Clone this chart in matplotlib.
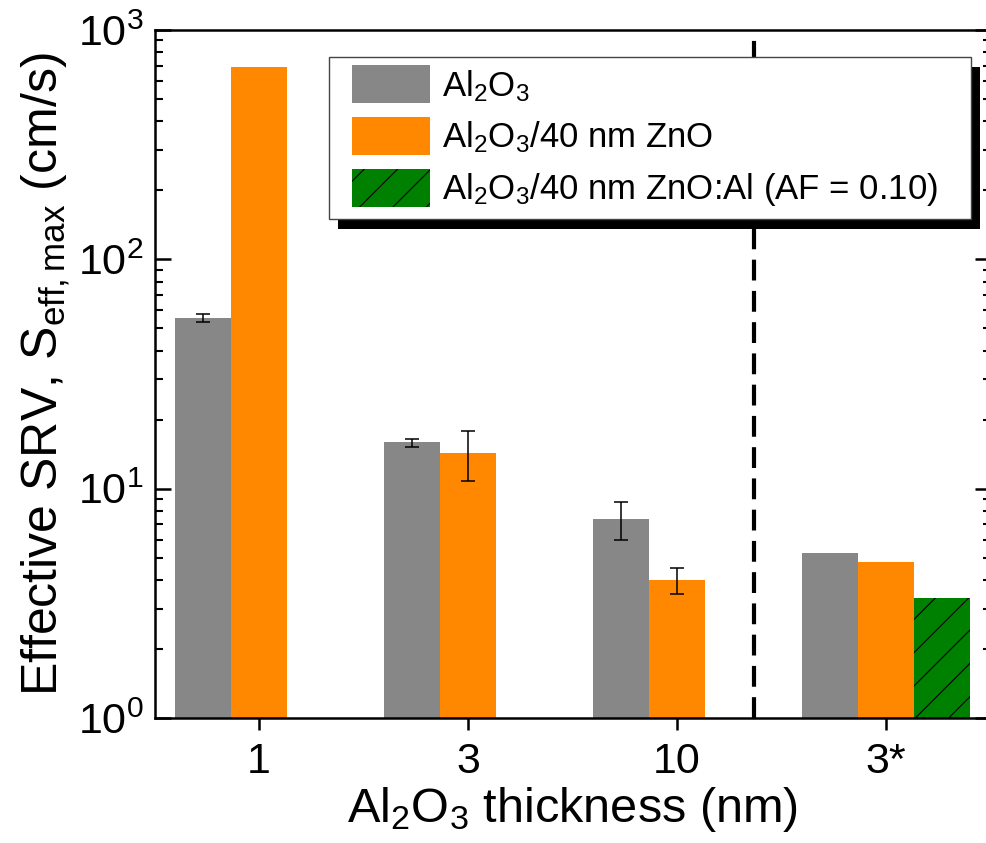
import matplotlib
matplotlib.use("Agg")
import matplotlib.pyplot as plt
from matplotlib.patches import Rectangle
from matplotlib.container import BarContainer
from matplotlib.legend_handler import HandlerPatch, update_from_first_child
import numpy as np

# ---- datos ----
grupos      = ["1", "3", "10", "3*"]
pos_grupos  = [1, 2, 3, 4]

al2o3       = [55.4, 15.9, 7.36, 5.26]
al2o3_err   = [2.1, 0.64, 1.38, 0.0]

zno         = [690.0, 14.3, 4.0, 4.78]
zno_err     = [0.0, 3.5, 0.52, 0.0]

znoal_pos   = [4]
znoal       = [3.33]

etiquetas = [r"Al$_2$O$_3$",
             r"Al$_2$O$_3$/40 nm ZnO",
             r"Al$_2$O$_3$/40 nm ZnO:Al (AF = 0.10)"]

# ---- estilo ----
plt.rcParams["font.family"] = ["Liberation Sans", "DejaVu Sans"]
plt.rcParams["mathtext.fontset"] = "custom"
plt.rcParams["mathtext.rm"] = "Liberation Sans"
plt.rcParams["mathtext.it"] = "Liberation Sans:italic"
plt.rcParams["mathtext.default"] = "regular"
plt.rcParams["hatch.linewidth"] = 0.8

GRIS    = "#878787"
NARANJA = "#ff8800"
VERDE   = "#008000"
ANCHO   = 0.268

fig = plt.figure(figsize=(9.86, 8.43), dpi=100)
W, H = 986, 843
ax = fig.add_axes([154.5 / W, 1 - 718 / H, 836 / W, 688 / H])

x = np.array(pos_grupos, dtype=float)

ax.bar(x - ANCHO, al2o3, width=ANCHO, color=GRIS, linewidth=0, label=etiquetas[0], zorder=2)
ax.bar(x, zno, width=ANCHO, color=NARANJA, linewidth=0, label=etiquetas[1], zorder=2)
ax.bar(np.array(znoal_pos) + ANCHO, znoal, width=ANCHO, color=VERDE, edgecolor="black",
       linewidth=0, hatch="/", label=etiquetas[2], zorder=2)

# barras de error (solo donde hay)
for xs, vals, errs in [(x - ANCHO, al2o3, al2o3_err), (x, zno, zno_err)]:
    for xi, v, e in zip(xs, vals, errs):
        if e > 0:
            ax.errorbar(xi, v, yerr=e, color="black", lw=1.1, capsize=4.7,
                        capthick=1.1, zorder=3)

# línea vertical de separación
ax.axvline(3.37, color="black", lw=3, ls=(0, (5, 2.5)), zorder=1)

ax.set_yscale("log")
ax.set_ylim(1, 1000)
ax.set_xlim(0.5, 4.5)
ax.set_xticks(pos_grupos)
ax.set_xticklabels(grupos)

for s in ax.spines.values():
    s.set_linewidth(1.8)

ax.tick_params(axis="y", which="major", direction="in", length=11.5, width=1.8,
               labelsize=31, pad=8, right=True)
ax.tick_params(axis="y", which="minor", direction="in", length=5.8, width=1.5, right=True)
ax.tick_params(axis="x", which="major", direction="out", length=8.6, width=1.8,
               labelsize=31, pad=9, top=False)
ax.tick_params(axis="x", which="minor", bottom=False, top=False)

ax.set_xlabel(r"Al$_2$O$_3$ thickness (nm)", fontsize=35, labelpad=2)
ax.set_ylabel(r"Effective SRV, S$_{\rm eff,max}$ (cm/s)", fontsize=36, labelpad=4)


# rectángulo de la leyenda corrido a la derecha (margen izquierdo más ancho)
def cuadro(legend, orig_handle, xdescent, ydescent, width, height, fontsize):
    corr = 9.4        # pt
    alto = 27.4       # pt
    return Rectangle((-xdescent + corr, -ydescent + (height - alto) / 2),
                     width - corr, alto)


leg = ax.legend(loc="upper left", mode="expand",
                bbox_to_anchor=(329 / W, 1 - 218 / H, 642 / W, 161 / H),
                bbox_transform=fig.transFigure, borderaxespad=0,
                fontsize=25, handlelength=2.62, handleheight=1.1,
                handletextpad=0.32, borderpad=0.3, labelspacing=0.45,
                fancybox=False, framealpha=1, edgecolor="#444444",
                handler_map={BarContainer: HandlerPatch(patch_func=cuadro,
                                                        update_func=update_from_first_child)})
leg.get_frame().set_linewidth(1.0)

# sombra negra de la leyenda
fig.canvas.draw()
bb = leg.get_frame().get_window_extent(fig.canvas.get_renderer())
sombra = Rectangle(((bb.x0 + 9) / W, (bb.y0 - 10) / H), bb.width / W, bb.height / H,
                   transform=fig.transFigure, facecolor="black", edgecolor="none",
                   zorder=4)
ax.add_artist(sombra)
sombra.set_clip_on(False)

fig.savefig("out.png", dpi=100)
